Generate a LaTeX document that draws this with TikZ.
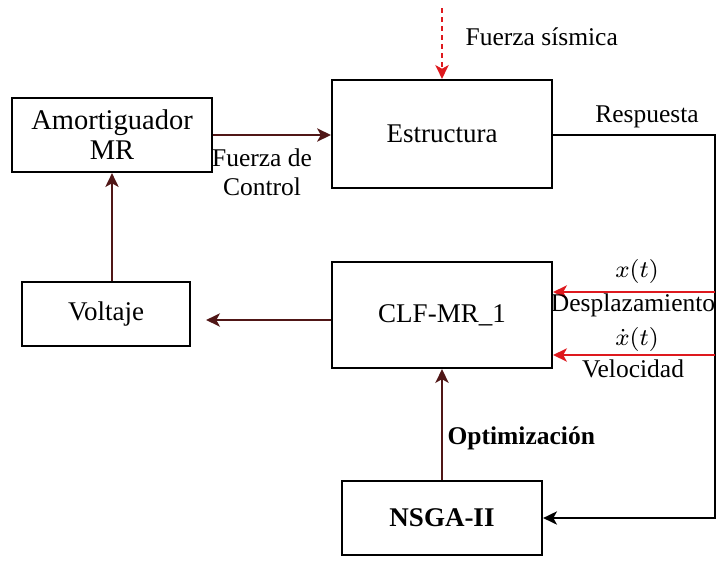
\documentclass[tikz,border=0pt]{standalone}
\usepackage{fontspec}
\setmainfont{Liberation Serif}
\usetikzlibrary{arrows.meta}
\definecolor{cafe}{RGB}{80,22,22}
\definecolor{rojo}{RGB}{222,25,30}

\begin{document}
\begin{tikzpicture}[x=0.3333pt, y=-0.3333pt]
			\tikzset{ bloque/.style={draw, line width=0.7pt, align=center, font=\fontsize{9}{10.5}\selectfont},
				punta/.style={-{Stealth[length=4.6pt, width=4.4pt, inset=1.2pt]}},
				flujo/.style={cafe, line width=0.7pt, punta},
				sensor/.style={rojo, line width=0.7pt, punta},
				etiqueta/.style={font=\fontsize{8.5}{9.7}\selectfont, inner sep=0pt} }
			\useasboundingbox (0,0) rectangle (717,560);
			% bloques
			\node[bloque, minimum width=66.7pt, minimum height=24.7pt, font=\fontsize{9.5}{10}\selectfont] (amort) at (112,135) {Amortiguador\\MR};
			\node[bloque, minimum width=73.3pt, minimum height=36pt] (estr) at (442,134) {Estructura};
			\node[bloque, minimum width=56pt, minimum height=21.3pt] (volt) at (106,314) {Voltaje};
			\node[bloque, minimum width=73.3pt, minimum height=35.3pt] (clf) at (442,315) {CLF-MR\_1};
			\node[bloque, minimum width=66.7pt, minimum height=24.7pt, font=\fontsize{9}{10.5}\selectfont\bfseries] (nsga) at (442,518) {NSGA-II};
			% puntos libres
			\coordinate (sismo) at (442,8);
			\coordinate (borde) at (715,135);
			\coordinate (despl) at (715,292);
			\coordinate (veloc) at (715,355);
			% conexiones
			\draw[rojo, line width=0.7pt, dash pattern=on 1.7pt off 1.3pt, punta] (sismo) -- (estr.north);
			\node[etiqueta, anchor=west] (fsis) at (465,37) {Fuerza sísmica};
			\draw[flujo] (amort.east) -- (amort.east -| estr.west);
			\node[etiqueta, align=center] (fcon) at (262,172) {Fuerza de\\Control};
			\draw[black, line width=0.7pt, punta] (estr.east |- borde) -- (borde) |- (nsga.east);
			\node[etiqueta] (resp) at (647,117) {Respuesta};
			\draw[flujo] (amort.south |- volt.north) -- (amort.south);
			\draw[flujo, shorten >=5pt] (clf.west |- 0,320) -- (volt.east |- 0,320);
			\draw[flujo] (nsga.north) -- (clf.south);
			\node[etiqueta, anchor=west, font=\fontsize{8.5}{9.7}\selectfont\bfseries] (optim) at (447,438) {Optimización};
			\draw[sensor] (despl) -- (despl -| clf.east);
			\node[etiqueta] (xt) at (637,271) {$x(t)$};
			\node[etiqueta] (tdes) at (633,305) {Desplazamiento};
			\draw[sensor] (veloc) -- (veloc -| clf.east);
			\node[etiqueta] (vt) at (637,339) {$\dot{x}(t)$};
			\node[etiqueta] (tvel) at (633,369) {Velocidad};
\end{tikzpicture}
\end{document}
